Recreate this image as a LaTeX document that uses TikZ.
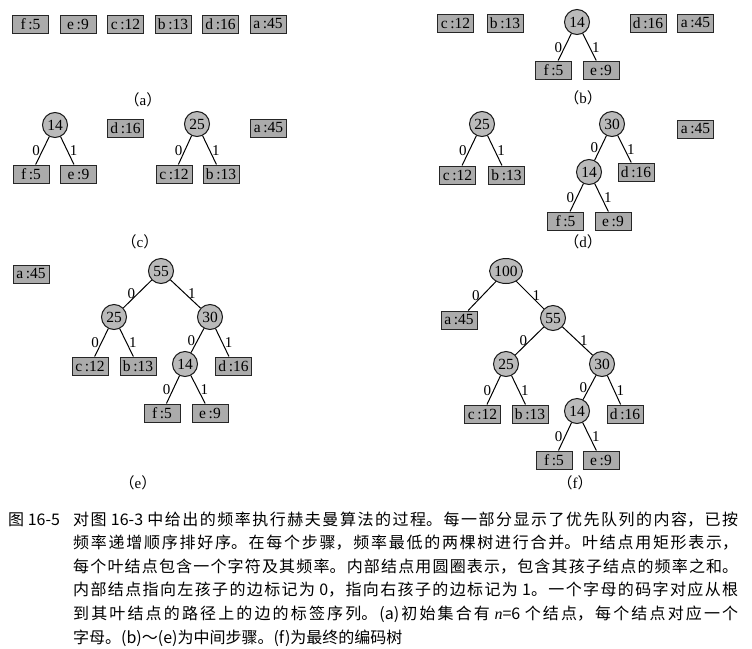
\documentclass[tikz,border=0pt]{standalone}
\usepackage{fontspec}
\setmainfont{Liberation Serif}
\newfontfamily\cjk{Noto Sans CJK SC}
\usetikzlibrary{shapes.geometric}
\begin{document}
\begin{tikzpicture}[x=1pt,y=-1pt,
  leaf/.style={draw=black!85,fill=black!33,minimum width=36pt,minimum height=18pt,inner sep=0.5pt,line width=1pt,font=\fontsize{15.5}{15.5}\selectfont},
  inn/.style={circle,draw=black!90,fill=black!27,minimum size=25pt,inner sep=0pt,line width=1pt,font=\fontsize{15.5}{15.5}\selectfont},
  innel/.style={ellipse,draw=black!90,fill=black!27,minimum width=32pt,minimum height=25pt,inner sep=0pt,line width=1pt,font=\fontsize{15.5}{15.5}\selectfont},
  edg/.style={line width=1pt},
  lbl/.style={font=\fontsize{15}{15}\selectfont,inner sep=2pt,midway},
  sub/.style={font=\fontsize{15}{15}\selectfont}
]
\useasboundingbox (0,0) rectangle (752,648);
\newcommand\pl[1]{{\cjk （}#1{\cjk ）}}
% ---------- (a)
\node[leaf] (af) at (30.5,24) {f\,:5};
\node[leaf] (ae) at (78,24) {e\,:9};
\node[leaf] (ac) at (125.5,24) {c\,:12};
\node[leaf] (ab) at (173,24) {b\,:13};
\node[leaf] (ad) at (220.5,24) {d\,:16};
\node[leaf] (aa) at (268,24) {a\,:45};
\node[sub] (la) at (143,100) {\pl{a}};
% ---------- (b)
\node[leaf] (bc) at (455.5,23) {c\,:12};
\node[leaf] (bb) at (505,23) {b\,:13};
\node[inn]  (b14) at (577,22) {14};
\node[leaf] (bd) at (648,23) {d\,:16};
\node[leaf] (ba) at (695.5,23) {a\,:45};
\node[leaf] (bf) at (553.5,70) {f\,:5};
\node[leaf] (be) at (601,70) {e\,:9};
\draw[edg] (b14) -- node[lbl,left]{0} (bf);
\draw[edg] (b14) -- node[lbl,right]{1} (be);
\node[sub] (lb) at (583,98) {\pl{b}};
% ---------- (c)
\node[inn]  (c14) at (55,125) {14};
\node[leaf] (cf) at (31,174) {f\,:5};
\node[leaf] (ce) at (78.5,174) {e\,:9};
\node[leaf] (cd) at (125.5,128) {d\,:16};
\node[inn]  (c25) at (197,124) {25};
\node[leaf] (cc) at (174,174) {c\,:12};
\node[leaf] (cb) at (221,174) {b\,:13};
\node[leaf] (ca) at (268.5,128) {a\,:45};
\draw[edg] (c14) -- node[lbl,left]{0} (cf);
\draw[edg] (c14) -- node[lbl,right]{1} (ce);
\draw[edg] (c25) -- node[lbl,left]{0} (cc);
\draw[edg] (c25) -- node[lbl,right]{1} (cb);
\node[sub] (lc) at (140,242) {\pl{c}};
% ---------- (d)
\node[inn]  (d25) at (482,124) {25};
\node[leaf] (dc) at (457.5,175) {c\,:12};
\node[leaf] (db) at (506.5,175) {b\,:13};
\node[inn]  (d30) at (612,124) {30};
\node[leaf] (da) at (695.5,129) {a\,:45};
\node[inn]  (d14) at (589,172) {14};
\node[leaf] (dd) at (636,172) {d\,:16};
\node[leaf] (df) at (565.5,221) {f\,:5};
\node[leaf] (de) at (613,221) {e\,:9};
\draw[edg] (d25) -- node[lbl,left]{0} (dc);
\draw[edg] (d25) -- node[lbl,right]{1} (db);
\draw[edg] (d30) -- node[lbl,left]{0} (d14);
\draw[edg] (d30) -- node[lbl,right]{1} (dd);
\draw[edg] (d14) -- node[lbl,left]{0} (df);
\draw[edg] (d14) -- node[lbl,right]{1} (de);
\node[sub] (ld) at (583,242) {\pl{d}};
% ---------- (e)
\node[leaf] (ea) at (31,274) {a\,:45};
\node[inn]  (e55) at (161,271) {55};
\node[inn]  (e25) at (114,317) {25};
\node[inn]  (e30) at (210,317) {30};
\node[leaf] (ec) at (90,366) {c\,:12};
\node[leaf] (eb) at (138,366) {b\,:13};
\node[inn]  (e14) at (185,364) {14};
\node[leaf] (ed) at (233.5,366) {d\,:16};
\node[leaf] (ef) at (162,413) {f\,:5};
\node[leaf] (ee) at (210,413) {e\,:9};
\draw[edg] (e55) -- node[lbl,left]{0} (e25);
\draw[edg] (e55) -- node[lbl,right]{1} (e30);
\draw[edg] (e25) -- node[lbl,left]{0} (ec);
\draw[edg] (e25) -- node[lbl,right]{1} (eb);
\draw[edg] (e30) -- node[lbl,left]{0} (e14);
\draw[edg] (e30) -- node[lbl,right]{1} (ed);
\draw[edg] (e14) -- node[lbl,left]{0} (ef);
\draw[edg] (e14) -- node[lbl,right]{1} (ee);
\node[sub] (le) at (138,483) {\pl{e}};
% ---------- (f)
\node[innel] (f100) at (506,271) {100};
\node[leaf] (fa) at (459,320) {a\,:45};
\node[inn]  (f55) at (553,318) {55};
\node[inn]  (f25) at (506,364) {25};
\node[inn]  (f30) at (602,364) {30};
\node[leaf] (fc) at (482.5,414) {c\,:12};
\node[leaf] (fb) at (530,414) {b\,:13};
\node[inn]  (f14) at (577,411) {14};
\node[leaf] (fd) at (625,414) {d\,:16};
\node[leaf] (ff) at (554,460) {f\,:5};
\node[leaf] (fe) at (601,460) {e\,:9};
\draw[edg] (f100) -- node[lbl,left]{0} (fa);
\draw[edg] (f100) -- node[lbl,right]{1} (f55);
\draw[edg] (f55) -- node[lbl,left]{0} (f25);
\draw[edg] (f55) -- node[lbl,right]{1} (f30);
\draw[edg] (f25) -- node[lbl,left]{0} (fc);
\draw[edg] (f25) -- node[lbl,right]{1} (fb);
\draw[edg] (f30) -- node[lbl,left]{0} (f14);
\draw[edg] (f30) -- node[lbl,right]{1} (fd);
\draw[edg] (f14) -- node[lbl,left]{0} (ff);
\draw[edg] (f14) -- node[lbl,right]{1} (fe);
\node[sub] (lf) at (575,483) {\pl{f}};
% ---------- caption
\node[anchor=base west,inner sep=0pt,font=\cjk\fontsize{16}{23.6}\selectfont] (fig) at (8,525) {图 16-5};
\node[anchor=base west,inner sep=0pt] (cap) at (73,525) {\parbox[t]{665pt}{\cjk\fontsize{16}{23.6}\selectfont
\XeTeXlinebreaklocale "zh"\XeTeXlinebreakskip=0pt plus 4pt\parindent=0pt\parfillskip=0pt plus 1fil\tolerance=9999
对图 16-3 中给出的频率执行赫夫曼算法的过程。每一部分显示了优先队列的内容，已按\linebreak
频率递增顺序排好序。在每个步骤，频率最低的两棵树进行合并。叶结点用矩形表示，\linebreak
每个叶结点包含一个字符及其频率。内部结点用圆圈表示，包含其孩子结点的频率之和。\linebreak
内部结点指向左孩子的边标记为 0，指向右孩子的边标记为 1。一个字母的码字对应从根\linebreak
到其叶结点的路径上的边的标签序列。(a)初始集合有 {\rmfamily\itshape n}=6 个结点，每个结点对应一个\linebreak
字母。(b)～(e)为中间步骤。(f)为最终的编码树}};
\end{tikzpicture}
\end{document}
